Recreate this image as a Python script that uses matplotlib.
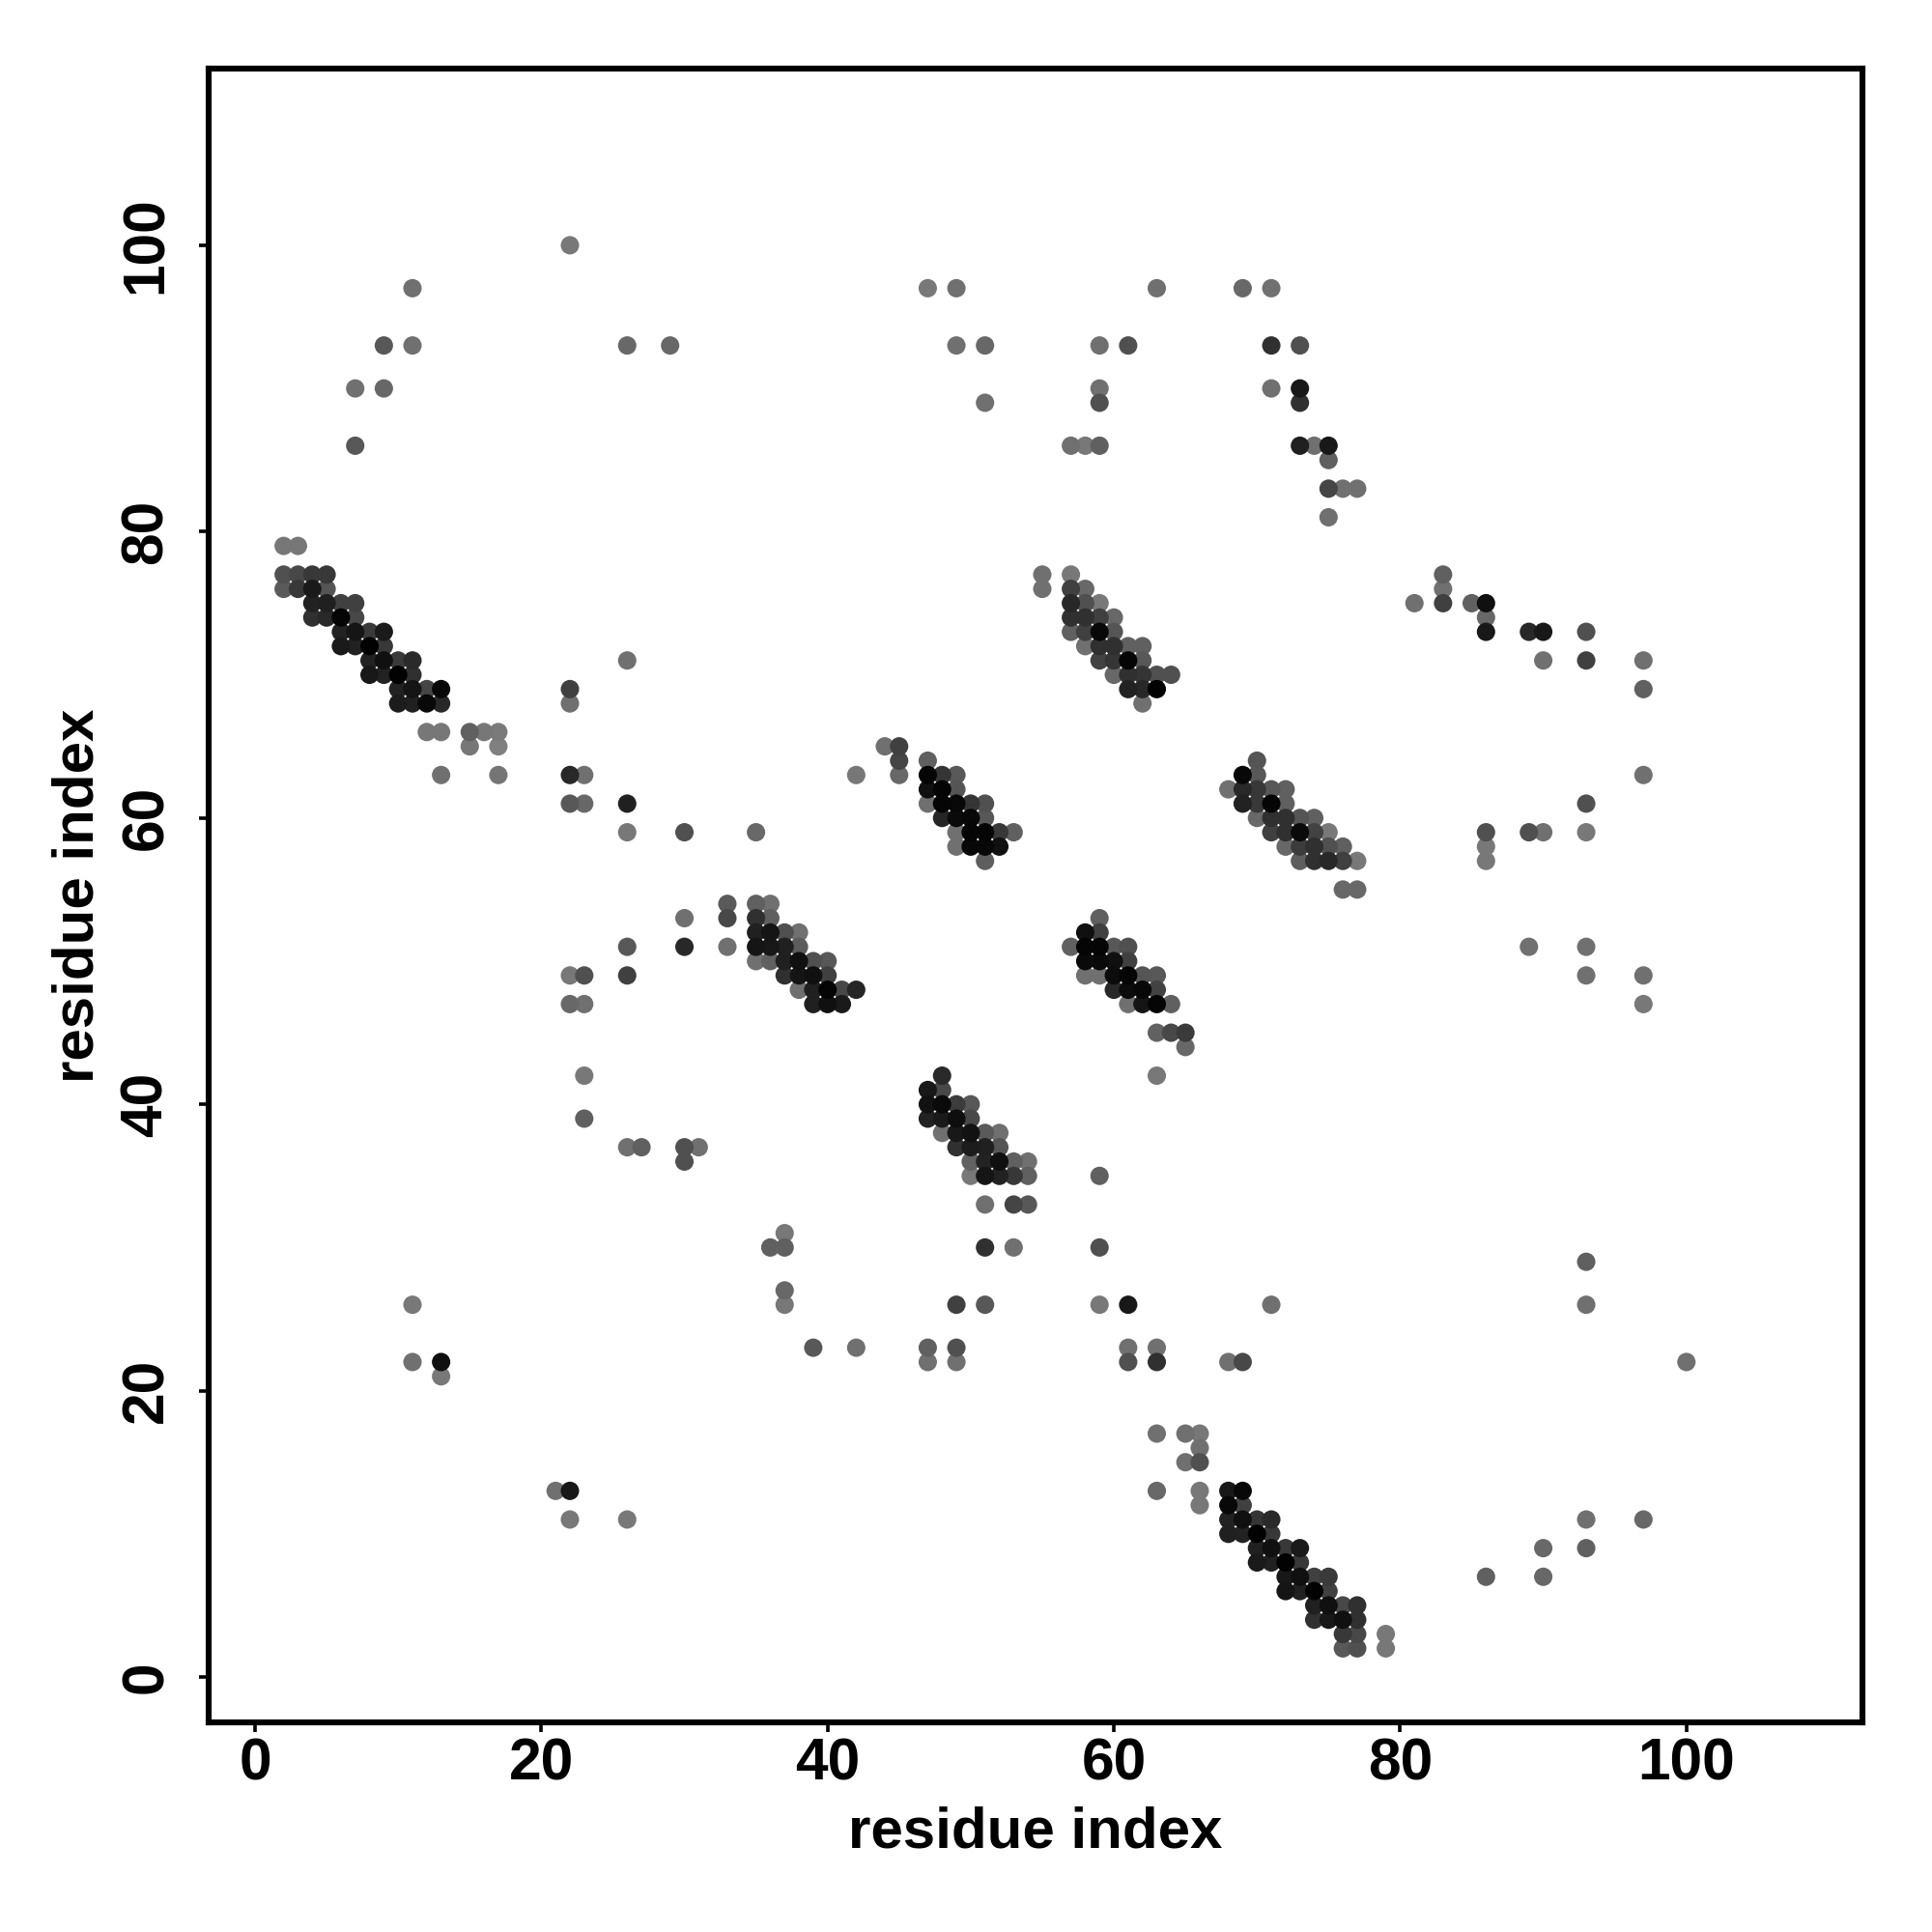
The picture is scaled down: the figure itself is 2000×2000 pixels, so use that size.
import numpy as np
import matplotlib
matplotlib.use('Agg')
import matplotlib.pyplot as plt

plt.rcParams['font.family'] = ['Liberation Sans', 'DejaVu Sans']

# contact map, one entry per row of the plot: y residue, x residues, grey level (0-255)
row_y = [100, 97, 93, 90, 89, 86, 85, 83, 81, 79,
         77, 76, 75, 74, 73, 72, 71, 70, 69, 68,
         66, 65, 64, 63, 62, 61, 60, 59, 58, 57,
         55, 54, 53, 52, 51, 50, 49, 48, 47, 45,
         44, 42, 41, 40, 39, 38, 37, 36, 35, 33,
         31, 30, 29, 27, 26, 23, 22, 21, 17, 16,
         15, 13, 12, 11, 10, 9, 8, 7, 6, 5,
         4, 3, 2]

row_x = [
    [22],
    [11, 47, 49, 63, 69, 71],
    [9, 11, 26, 29, 49, 51, 59, 61, 71, 73],
    [7, 9, 59, 71, 73],
    [51, 59, 73],
    [7, 57, 58, 59, 73, 74, 75],
    [75],
    [75, 76, 77],
    [75],
    [2, 3],
    [2, 3, 4, 5, 55, 57, 83],
    [2, 3, 4, 5, 55, 57, 58, 83],
    [4, 5, 6, 7, 57, 58, 59, 81, 83, 85, 86],
    [4, 5, 6, 7, 57, 58, 59, 60, 86],
    [6, 7, 8, 9, 57, 58, 59, 60, 86, 89, 90, 93],
    [6, 7, 8, 9, 58, 59, 60, 61, 62],
    [8, 9, 10, 11, 26, 59, 60, 61, 62, 90, 93, 97],
    [8, 9, 10, 11, 60, 61, 62, 63, 64],
    [10, 11, 12, 13, 22, 61, 62, 63, 97],
    [10, 11, 12, 13, 22, 62],
    [12, 13, 15, 16, 17],
    [15, 17, 44, 45],
    [45, 47, 70],
    [13, 17, 22, 23, 42, 45, 47, 48, 49, 69, 70, 97],
    [47, 48, 49, 68, 69, 70, 71, 72],
    [22, 23, 26, 47, 48, 49, 50, 51, 69, 70, 71, 72, 93],
    [48, 49, 50, 51, 70, 71, 72, 73, 74],
    [26, 30, 35, 49, 50, 51, 52, 53, 71, 72, 73, 74, 75, 86, 89, 90, 93],
    [49, 50, 51, 52, 72, 73, 74, 75, 76, 86],
    [51, 73, 74, 75, 76, 77, 86],
    [76, 77],
    [33, 35, 36],
    [30, 33, 35, 36, 59],
    [35, 36, 37, 38, 58, 59],
    [26, 30, 33, 35, 36, 37, 38, 57, 58, 59, 60, 61, 89, 93],
    [35, 36, 37, 38, 39, 40, 58, 59, 60, 61],
    [22, 23, 26, 37, 38, 39, 40, 58, 59, 60, 61, 62, 63, 93, 97],
    [38, 39, 40, 41, 42, 60, 61, 62, 63],
    [22, 23, 39, 40, 41, 61, 62, 63, 64, 97],
    [63, 64, 65],
    [65],
    [23, 48, 63],
    [47, 48],
    [47, 48, 49, 50],
    [23, 47, 48, 49, 50],
    [48, 49, 50, 51, 52],
    [26, 27, 30, 31, 49, 50, 51, 52],
    [30, 50, 51, 52, 53, 54],
    [50, 51, 52, 53, 54, 59],
    [51, 53, 54],
    [37],
    [36, 37, 51, 53, 59],
    [93],
    [37],
    [11, 37, 49, 51, 59, 61, 71, 93],
    [39, 42, 47, 49, 61, 63],
    [11, 13, 47, 49, 61, 63, 68, 69, 100],
    [13],
    [63, 65, 66],
    [66],
    [65, 66],
    [21, 22, 63, 66, 68, 69],
    [66, 68, 69],
    [22, 26, 68, 69, 70, 71, 93, 97],
    [68, 69, 70, 71],
    [70, 71, 72, 73, 90, 93],
    [70, 71, 72, 73],
    [72, 73, 74, 75, 86, 90],
    [72, 73, 74, 75],
    [74, 75, 76, 77],
    [74, 75, 76, 77],
    [76, 77, 79],
    [76, 77, 79],
]

row_grey = [
    [0x78],
    [0x70, 0x78, 0x70, 0x70, 0x68, 0x70],
    [0x58, 0x70, 0x68, 0x68, 0x70, 0x68, 0x70, 0x50, 0x30, 0x50],
    [0x70, 0x68, 0x70, 0x70, 0x18],
    [0x70, 0x50, 0x30],
    [0x58, 0x70, 0x78, 0x60, 0x20, 0x70, 0x18],
    [0x60],
    [0x45, 0x70, 0x70],
    [0x70],
    [0x77, 0x77],
    [0x50, 0x48, 0x38, 0x38, 0x70, 0x78, 0x60],
    [0x5a, 0x38, 0x1a, 0x55, 0x70, 0x40, 0x68, 0x70],
    [0x22, 0x20, 0x40, 0x40, 0x28, 0x50, 0x78, 0x70, 0x40, 0x60, 0x10],
    [0x30, 0x28, 0x05, 0x48, 0x30, 0x30, 0x40, 0x68, 0x68],
    [0x22, 0x15, 0x3a, 0x1a, 0x60, 0x40, 0x08, 0x55, 0x18, 0x28, 0x18, 0x50],
    [0x1a, 0x22, 0x02, 0x38, 0x70, 0x30, 0x30, 0x60, 0x60],
    [0x22, 0x10, 0x3a, 0x2a, 0x70, 0x42, 0x35, 0x05, 0x58, 0x70, 0x40, 0x70],
    [0x18, 0x22, 0x02, 0x30, 0x68, 0x30, 0x35, 0x50, 0x50],
    [0x22, 0x15, 0x45, 0x08, 0x40, 0x22, 0x28, 0x02, 0x60],
    [0x1c, 0x20, 0x08, 0x28, 0x70, 0x70],
    [0x77, 0x77, 0x60, 0x77, 0x7a],
    [0x77, 0x80, 0x70, 0x40],
    [0x45, 0x60, 0x55],
    [0x70, 0x75, 0x28, 0x70, 0x77, 0x68, 0x05, 0x35, 0x58, 0x08, 0x58, 0x70],
    [0x10, 0x05, 0x55, 0x70, 0x28, 0x38, 0x58, 0x60],
    [0x58, 0x68, 0x20, 0x70, 0x05, 0x08, 0x35, 0x50, 0x22, 0x38, 0x05, 0x60, 0x50],
    [0x25, 0x0a, 0x08, 0x58, 0x68, 0x30, 0x30, 0x55, 0x60],
    [0x78, 0x50, 0x68, 0x70, 0x05, 0x05, 0x38, 0x60, 0x40, 0x30, 0x0a, 0x42, 0x78, 0x50, 0x50, 0x70, 0x78],
    [0x70, 0x08, 0x08, 0x10, 0x68, 0x3c, 0x30, 0x50, 0x60, 0x78],
    [0x5e, 0x5e, 0x30, 0x28, 0x40, 0x78, 0x78],
    [0x68, 0x68],
    [0x5a, 0x60, 0x70],
    [0x70, 0x48, 0x30, 0x60, 0x60],
    [0x20, 0x15, 0x50, 0x70, 0x10, 0x40],
    [0x58, 0x28, 0x70, 0x15, 0x18, 0x20, 0x5c, 0x60, 0x05, 0x05, 0x58, 0x50, 0x70, 0x70],
    [0x70, 0x60, 0x20, 0x10, 0x50, 0x58, 0x0a, 0x0a, 0x10, 0x40],
    [0x78, 0x50, 0x40, 0x30, 0x15, 0x10, 0x40, 0x70, 0x70, 0x0c, 0x05, 0x55, 0x58, 0x70, 0x70],
    [0x70, 0x20, 0x05, 0x48, 0x25, 0x28, 0x0c, 0x08, 0x42],
    [0x68, 0x70, 0x20, 0x10, 0x1a, 0x70, 0x15, 0x05, 0x60, 0x78],
    [0x62, 0x48, 0x3a],
    [0x68],
    [0x78, 0x2a, 0x78],
    [0x18, 0x48],
    [0x12, 0x0a, 0x3c, 0x58],
    [0x60, 0x22, 0x1a, 0x0e, 0x48],
    [0x70, 0x18, 0x12, 0x5a, 0x70],
    [0x70, 0x60, 0x50, 0x70, 0x30, 0x1c, 0x20, 0x55],
    [0x50, 0x62, 0x22, 0x10, 0x60, 0x70],
    [0x78, 0x15, 0x22, 0x38, 0x60, 0x60],
    [0x70, 0x45, 0x58],
    [0x78],
    [0x60, 0x60, 0x30, 0x70, 0x50],
    [0x60],
    [0x68],
    [0x78, 0x78, 0x40, 0x58, 0x78, 0x18, 0x70, 0x70],
    [0x58, 0x70, 0x60, 0x50, 0x70, 0x70],
    [0x70, 0x10, 0x70, 0x70, 0x50, 0x30, 0x70, 0x48, 0x70],
    [0x78],
    [0x70, 0x70, 0x78],
    [0x70],
    [0x70, 0x50],
    [0x70, 0x18, 0x68, 0x78, 0x18, 0x08],
    [0x78, 0x08, 0x40],
    [0x78, 0x78, 0x22, 0x10, 0x35, 0x2a, 0x70, 0x68],
    [0x20, 0x22, 0x02, 0x38],
    [0x20, 0x10, 0x38, 0x1a, 0x68, 0x60],
    [0x1a, 0x20, 0x02, 0x38],
    [0x18, 0x10, 0x40, 0x3a, 0x60, 0x68],
    [0x15, 0x20, 0x02, 0x40],
    [0x20, 0x10, 0x48, 0x30],
    [0x30, 0x18, 0x10, 0x30],
    [0x38, 0x48, 0x78],
    [0x58, 0x50, 0x78],
]

tick_values = [0, 20, 40, 60, 80, 100]

x = np.concatenate([np.array(r, dtype=float) for r in row_x])
y = np.concatenate([np.full(len(r), yy, dtype=float) for r, yy in zip(row_x, row_y)])
grey = np.concatenate([np.array(g, dtype=float) for g in row_grey]) / 255.0

fig = plt.figure(figsize=(10, 10), dpi=200)
ax = fig.add_axes([216 / 2000, 1 - 1783 / 2000, (1928 - 216) / 2000, (1783 - 71) / 2000])

# light dots first so the dark diagonal stays whole
order = np.argsort(-grey, kind='stable')
colors = np.column_stack([grey, grey, grey])
ax.scatter(x[order], y[order], s=47, c=colors[order], linewidths=0, zorder=3)

ax.set_xlim(-3.24, 112.3)
ax.set_ylim(-3.17, 112.34)
ax.set_xticks(tick_values)
ax.set_yticks(tick_values)
ax.tick_params(axis='x', length=3.6, width=1.3, labelsize=21.8, pad=1.9)
ax.tick_params(axis='y', length=3.6, width=1.3, labelsize=21.8, pad=9)
for lab in ax.get_xticklabels():
    lab.set_fontweight('bold')
for lab in ax.get_yticklabels():
    lab.set_fontweight('bold')
    lab.set_rotation(90)
    lab.set_va('center')
for side in ax.spines.values():
    side.set_linewidth(2.2)

ax.set_xlabel('residue index', fontsize=21.6, fontweight='bold', labelpad=5)
ax.set_ylabel('residue index', fontsize=21.6, fontweight='bold', labelpad=5.4)

fig.savefig('out.png', dpi=200)
